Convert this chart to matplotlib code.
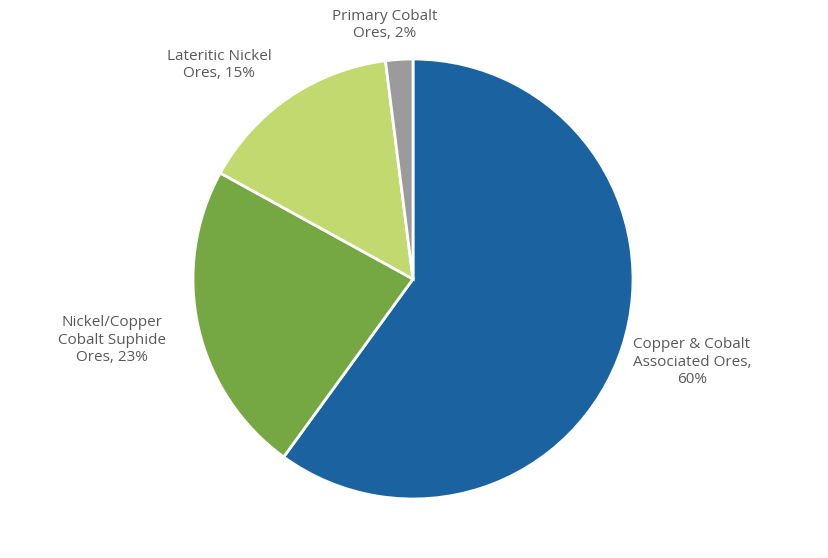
import matplotlib
matplotlib.use("Agg")
import matplotlib.pyplot as plt

categories = ["Copper & Cobalt\nAssociated Ores,\n60%", "Nickel/Copper\nCobalt Suphide\nOres, 23%",
              "Lateritic Nickel\nOres, 15%", "Primary Cobalt\nOres, 2%"]
values = [60, 23, 15, 2]
colors = ["#1A62A0", "#75A843", "#C2D970", "#9B9B9E"]
label_pos = [(692, 362), (112, 340), (219, 65), (385, 25)]

fig = plt.figure(figsize=(8.29, 5.58), dpi=100)
ax = fig.add_axes([0, 0, 1, 1])
ax.pie(values, colors=colors, startangle=90, counterclock=False,
       center=(413, 558 - 279), radius=220,
       wedgeprops=dict(edgecolor="white", linewidth=2))
for lab, (x, y) in zip(categories, label_pos):
    ax.text(x, 558 - y, lab, ha="center", va="center", fontsize=11,
            color="#595959", family="Open Sans", linespacing=1.25)
ax.set_xlim(0, 829)
ax.set_ylim(0, 558)
ax.set_aspect("equal")
ax.axis("off")
fig.savefig("out.png", dpi=100)
